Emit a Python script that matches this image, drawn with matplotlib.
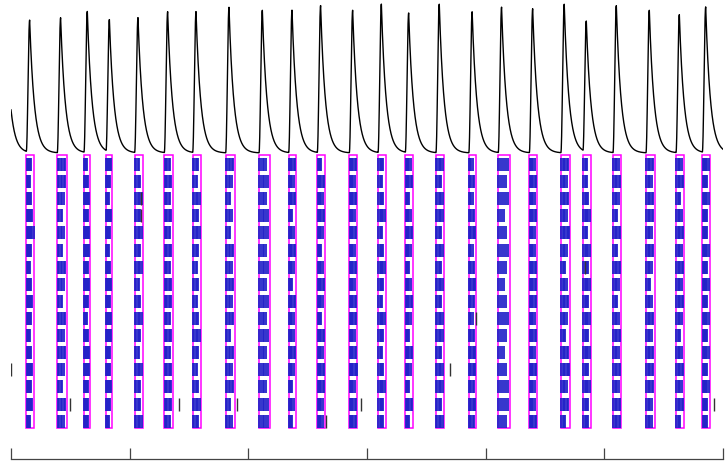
import numpy as np
import matplotlib
matplotlib.use("Agg")
import matplotlib.pyplot as plt
from matplotlib.patches import Rectangle

# burst windows (s)
burst_start = [1.29, 3.90, 6.15, 8.01, 10.42, 12.92, 15.31, 18.09, 20.90, 23.40, 25.81, 28.51,
               30.93, 33.23, 35.81, 38.58, 41.06, 43.68, 46.34, 48.20, 50.73, 53.51, 56.04, 58.26]
burst_end = [1.91, 4.72, 6.68, 8.54, 11.15, 13.65, 16.01, 18.88, 21.80, 24.02, 26.49, 29.18,
             31.60, 33.90, 36.49, 39.21, 42.03, 44.35, 47.07, 48.88, 51.43, 54.24, 56.74, 58.90]

# peak amplitude of the population trace for each burst (a.u.)
trace_peak = [0.88, 0.90, 0.94, 0.88, 0.90, 0.94, 0.94, 0.97, 0.95, 0.95, 0.98, 0.95,
              0.99, 0.93, 0.99, 0.94, 0.97, 0.96, 0.99, 0.87, 0.98, 0.95, 0.92, 0.97]
pre_event_t = -0.75
pre_event_peak = 0.93

# spikes per unit inside each burst (rows = units, columns = bursts)
spike_counts = [
    "564645565646556465645656",
    "465556456565465556546565",
    "556465645656546465655646",
    "645656556465656546564655",
    "756565646556465655746565",
    "546456565645556465564656",
    "465565456556645556456565",
    "556646565465556646565456",
    "645556456656465556654565",
    "564665565546656465565656",
    "455656646565546556456545",
    "566545565656465645665656",
    "656566456567556656756665",
    "545656565465646565565656",
    "665556646556565665656565",
    "455465556456546556456545",
]
n_units = len(spike_counts)

# spikes outside bursts: (time s, unit)
lone_t = [0.02, 4.97, 10.95, 10.95, 14.13, 19.07, 26.54, 29.49, 37.0, 39.2, 48.4, 59.26]
lone_unit = [12, 14, 2, 3, 14, 14, 15, 14, 12, 9, 6, 14]

t_rise = 0.28
tau = 0.4
amp = 8.77
baseline = -0.33

fig = plt.figure(figsize=(7.25, 4.64), dpi=100)
ax = fig.add_axes([11 / 725, 4 / 464, 712 / 725, 460 / 464])

# population trace
t = np.arange(0, 60.0, 0.01)
trace = np.zeros_like(t)
for t0, h in zip([pre_event_t] + burst_start, [pre_event_peak] + trace_peak):
    dt = t - t0
    k = np.zeros_like(t)
    up = (dt >= 0) & (dt < t_rise)
    k[up] = 0.5 * (1 - np.cos(np.pi * dt[up] / t_rise))
    down = dt >= t_rise
    k[down] = np.exp(-(dt[down] - t_rise) / tau)
    trace += h * k
ax.plot(t, baseline + amp * trace, color="k", lw=1.0)

# raster
for i, (s, e) in enumerate(zip(burst_start, burst_end)):
    for u in range(n_units):
        n = int(spike_counts[u][i])
        st = s + 0.02 + (e - s) * 0.16 * np.arange(n)
        ax.vlines(st, -(u + 1) - 0.38, -(u + 1) + 0.38, color="#2222c8", lw=1.3)
    ax.add_patch(Rectangle((s, -16.38), e - s, 15.95, fill=False,
                           edgecolor="#ff00ff", lw=1.1))

for lt, lu in zip(lone_t, lone_unit):
    ax.vlines(lt, -(lu + 1) - 0.38, -(lu + 1) + 0.38, color="0.2", lw=1.0)

ax.set_xlim(0, 60)
ax.set_ylim(-18.21, 8.67)
ax.set_xticks(np.arange(0, 61, 10))
ax.set_xticklabels([])
ax.set_yticks([])
for sp in ["left", "top", "right"]:
    ax.spines[sp].set_visible(False)
ax.spines["bottom"].set_color("#444444")
ax.spines["bottom"].set_linewidth(0.9)
ax.tick_params(axis="x", direction="in", length=8, width=0.9, color="#444444")

fig.savefig("out.png", dpi=100)
